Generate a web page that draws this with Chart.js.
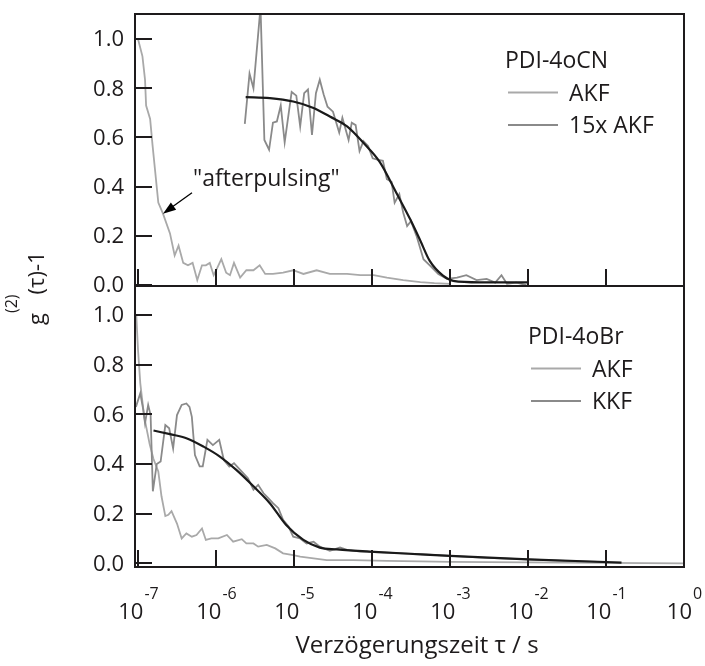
<!DOCTYPE html>
<html>
<head>
<meta charset="utf-8">
<script src="https://cdn.jsdelivr.net/npm/chart.js@4.4.1/dist/chart.umd.min.js"></script>
<style>
body { margin: 0; background: #fff; }
#wrap { position: relative; width: 705px; height: 666px; }
#wrap canvas { position: absolute; left: 0; top: 0; }
</style>
</head>
<body>
<div id="wrap">
  <canvas id="oben" width="705" height="666"></canvas>
  <canvas id="unten" width="705" height="666"></canvas>
</div>
<script>
// PDI-4oCN: Autokorrelation, 15-fach vergroessert und Fit
var tauAkfCN = [1.0e-7, 1.14e-7, 1.23e-7, 1.27e-7, 1.43e-7, 1.54e-7, 1.82e-7, 2.09e-7, 2.57e-7, 2.95e-7,
  3.31e-7, 3.80e-7, 4.37e-7, 5.01e-7, 5.75e-7, 6.61e-7, 7.41e-7, 8.32e-7, 9.33e-7, 1.02e-6,
  1.17e-6, 1.35e-6, 1.51e-6, 1.70e-6, 2.04e-6, 2.45e-6, 3.02e-6, 3.63e-6, 4.27e-6, 5.37e-6,
  7.24e-6, 9.77e-6, 1.32e-5, 1.95e-5, 2.88e-5, 4.79e-5, 7.08e-5, 1.05e-4, 1.55e-4, 2.51e-4,
  4.17e-4, 6.3e-4, 1.0e-3];
var gAkfCN = [1.00, 0.93, 0.835, 0.73, 0.675, 0.565, 0.335, 0.29, 0.21, 0.12,
  0.16, 0.09, 0.08, 0.09, 0.02, 0.08, 0.08, 0.09, 0.04, 0.065,
  0.105, 0.05, 0.04, 0.09, 0.03, 0.06, 0.06, 0.08, 0.045, 0.045,
  0.05, 0.06, 0.045, 0.06, 0.045, 0.045, 0.04, 0.04, 0.03, 0.02,
  0.012, 0.008, 0.005];

var tauAkf15CN = [2.34e-6, 2.69e-6, 3.02e-6, 3.72e-6, 4.17e-6, 4.79e-6, 5.37e-6, 6.03e-6, 6.76e-6, 7.59e-6,
  9.33e-6, 1.07e-5, 1.20e-5, 1.35e-5, 1.51e-5, 1.70e-5, 1.91e-5, 2.14e-5, 2.40e-5, 2.69e-5,
  3.16e-5, 3.80e-5, 4.17e-5, 5.01e-5, 5.50e-5, 6.17e-5, 6.92e-5, 7.76e-5, 8.91e-5, 1.02e-4,
  1.17e-4, 1.38e-4, 1.55e-4, 1.78e-4, 1.95e-4, 2.24e-4, 2.51e-4, 2.82e-4, 3.16e-4, 3.72e-4,
  4.57e-4, 5.50e-4, 7.08e-4, 9.12e-4, 1.23e-3, 1.62e-3, 2.19e-3, 2.95e-3, 3.80e-3, 4.57e-3,
  5.37e-3, 7.08e-3, 9.55e-3];
var gAkf15CN = [0.655, 0.86, 0.80, 1.13, 0.59, 0.55, 0.66, 0.665, 0.73, 0.58,
  0.785, 0.77, 0.645, 0.78, 0.795, 0.61, 0.78, 0.835, 0.775, 0.725,
  0.705, 0.62, 0.68, 0.59, 0.66, 0.65, 0.545, 0.585, 0.565, 0.515,
  0.51, 0.505, 0.43, 0.42, 0.335, 0.37, 0.295, 0.24, 0.26, 0.20,
  0.105, 0.08, 0.045, 0.025, 0.03, 0.04, 0.02, 0.025, 0.01, 0.04,
  0.005, 0.01, 0.0];

var tauFitCN = [2.40e-6, 4.90e-6, 9.77e-6, 1.78e-5, 2.88e-5, 4.79e-5, 7.76e-5, 1.26e-4, 2.09e-4, 3.09e-4,
  4.17e-4, 5.50e-4, 8.13e-4, 1.10e-3, 2.40e-3, 1.0e-2];
var gFitCN = [0.764, 0.76, 0.746, 0.72, 0.685, 0.645, 0.578, 0.50, 0.37, 0.267,
  0.18, 0.098, 0.038, 0.017, 0.011, 0.011];

// PDI-4oBr: Autokorrelation, Kreuzkorrelation und Fit
var tauAkfBr = [9.5e-8, 1.0e-7, 1.07e-7, 1.13e-7, 1.2e-7, 1.33e-7, 1.41e-7, 1.58e-7, 1.82e-7, 2.0e-7,
  2.24e-7, 2.45e-7, 2.69e-7, 3.16e-7, 3.63e-7, 4.17e-7, 4.9e-7, 5.62e-7, 6.61e-7, 7.41e-7,
  8.71e-7, 1.07e-6, 1.38e-6, 1.66e-6, 2.14e-6, 2.45e-6, 3.02e-6, 3.47e-6, 4.47e-6, 5.75e-6,
  7.24e-6, 9.77e-6, 1.2e-5, 1.78e-5, 2.63e-5, 5.75e-5, 1.55e-4, 4.17e-4, 1.0e-3, 1.0e-2,
  1.0e-1, 1.0];
var gAkfBr = [1.0, 0.86, 0.725, 0.66, 0.59, 0.52, 0.48, 0.42, 0.37, 0.27,
  0.19, 0.195, 0.21, 0.16, 0.10, 0.12, 0.107, 0.114, 0.14, 0.094,
  0.10, 0.10, 0.114, 0.087, 0.097, 0.08, 0.08, 0.067, 0.074, 0.06,
  0.04, 0.033, 0.027, 0.02, 0.013, 0.013, 0.01, 0.008, 0.006, 0.004,
  0.002, 0.0];

var tauKkfBr = [9.4e-8, 1.07e-7, 1.17e-7, 1.23e-7, 1.35e-7, 1.45e-7, 1.55e-7, 1.74e-7, 1.95e-7, 2.24e-7,
  2.51e-7, 2.82e-7, 3.16e-7, 3.63e-7, 4.17e-7, 4.57e-7, 4.9e-7, 5.37e-7, 6.17e-7, 6.76e-7,
  7.76e-7, 9.12e-7, 1.10e-6, 1.26e-6, 1.48e-6, 1.70e-6, 2.04e-6, 2.57e-6, 3.02e-6, 3.47e-6,
  4.07e-6, 4.68e-6, 5.37e-6, 6.31e-6, 7.24e-6, 8.51e-6, 9.77e-6, 1.2e-5, 1.45e-5, 1.78e-5,
  2.14e-5, 2.88e-5, 3.89e-5, 4.79e-5, 7.08e-5, 1.55e-4, 4.17e-4, 1.0e-3, 3.0e-3, 1.0e-2,
  3.0e-2, 1.0e-1];
var gKkfBr = [0.63, 0.685, 0.617, 0.564, 0.638, 0.597, 0.29, 0.40, 0.41, 0.557,
  0.544, 0.463, 0.597, 0.638, 0.644, 0.63, 0.59, 0.436, 0.39, 0.39,
  0.497, 0.476, 0.497, 0.416, 0.39, 0.403, 0.376, 0.342, 0.296, 0.316,
  0.282, 0.262, 0.242, 0.222, 0.175, 0.148, 0.107, 0.10, 0.08, 0.087,
  0.067, 0.05, 0.064, 0.054, 0.047, 0.043, 0.037, 0.03, 0.022, 0.016,
  0.01, 0.005];

var tauFitBr = [1.58e-7, 2.57e-7, 4.17e-7, 6.92e-7, 1.12e-6, 1.82e-6, 3.02e-6, 4.90e-6, 7.94e-6, 1.32e-5,
  2.14e-5, 3.55e-5, 9.33e-5, 4.17e-4, 1.0e-3, 1.0e-2, 1.58e-1];
var gFitBr = [0.535, 0.52, 0.504, 0.47, 0.43, 0.376, 0.31, 0.242, 0.154, 0.094,
  0.063, 0.056, 0.047, 0.036, 0.03, 0.016, 0.003];

// Achsenbeschriftung
var xTicks = [1e-7, 1e-6, 1e-5, 1e-4, 1e-3, 1e-2, 1e-1, 1e0];
var xTickExp = ['-7', '-6', '-5', '-4', '-3', '-2', '-1', '0'];
var yTicks = [0, 0.2, 0.4, 0.6, 0.8, 1.0];
var yTickLabels = ['0.0', '0.2', '0.4', '0.6', '0.8', '1.0'];

var hell = '#a9a9a9';
var dunkel = '#8a8a8a';
var schwarz = '#1a1a1a';
var text = '#1e1b1c';
var schrift = '"Open Sans", sans-serif';

function punkte(tau, g) {
    var arr = [];
    tau.forEach(function(t, i) {
        arr.push({x: t, y: g[i]});
    });
    return arr;
}

function linie(label, tau, g, farbe, breite, order, glatt) {
    return {
        label: label,
        data: punkte(tau, g),
        borderColor: farbe,
        backgroundColor: farbe,
        borderWidth: breite,
        pointRadius: 0,
        fill: false,
        order: order,
        clip: 1,
        cubicInterpolationMode: glatt ? 'monotone' : 'default',
        tension: 0
    };
}

// Rahmen, nach innen zeigende Ticks und y-Beschriftung
var rahmen = {
    id: 'rahmen',
    afterDatasetsDraw: function(chart) {
        var ctx = chart.ctx, a = chart.chartArea;
        var xs = chart.scales.x, ys = chart.scales.y;
        ctx.save();
        ctx.strokeStyle = text;
        ctx.lineWidth = 2;
        ctx.strokeRect(a.left, a.top, a.right - a.left, a.bottom - a.top);
        ctx.beginPath();
        xTicks.forEach(function(t) {
            var px = Math.round(xs.getPixelForValue(t));
            ctx.moveTo(px, a.bottom);
            ctx.lineTo(px, a.bottom - 17);
        });
        yTicks.forEach(function(v) {
            var py = Math.round(ys.getPixelForValue(v));
            ctx.moveTo(a.left, py);
            ctx.lineTo(a.left + 17, py);
        });
        ctx.stroke();
        ctx.fillStyle = text;
        ctx.font = '22px ' + schrift;
        ctx.textAlign = 'right';
        ctx.textBaseline = 'middle';
        yTicks.forEach(function(v, i) {
            ctx.fillText(yTickLabels[i], 124, ys.getPixelForValue(v) + 1);
        });
        ctx.restore();
    }
};

function legende(chart, titel, x, y) {
    var ctx = chart.ctx;
    ctx.save();
    ctx.font = '23px ' + schrift;
    ctx.fillStyle = text;
    ctx.textAlign = 'left';
    ctx.textBaseline = 'alphabetic';
    ctx.fillText(titel, x, y);
    var n = 0;
    chart.data.datasets.forEach(function(ds) {
        if (!ds.label) return;
        n++;
        var yy = y + n * 32.5;
        ctx.strokeStyle = ds.borderColor;
        ctx.lineWidth = 1.8;
        ctx.beginPath();
        ctx.moveTo(x + 3, yy - 8);
        ctx.lineTo(x + 53, yy - 8);
        ctx.stroke();
        ctx.fillText(ds.label, x + 64, yy);
    });
    ctx.restore();
}

var obenExtra = {
    id: 'obenExtra',
    afterDraw: function(chart) {
        legende(chart, 'PDI-4oCN', 505, 68);
        var ctx = chart.ctx;
        var xs = chart.scales.x, ys = chart.scales.y;
        // Pfeil auf den Afterpulsing-Anteil der AKF
        var sx = xs.getPixelForValue(2.09e-7), sy = ys.getPixelForValue(0.29);
        var ex = sx + 29, ey = sy - 21;
        var w = Math.atan2(sy - ey, sx - ex);
        ctx.save();
        ctx.strokeStyle = '#000';
        ctx.fillStyle = '#000';
        ctx.lineWidth = 1.3;
        ctx.beginPath();
        ctx.moveTo(ex, ey);
        ctx.lineTo(sx - 10 * Math.cos(w), sy - 10 * Math.sin(w));
        ctx.stroke();
        ctx.beginPath();
        ctx.moveTo(sx, sy);
        ctx.lineTo(sx - 13 * Math.cos(w) + 4.5 * Math.sin(w), sy - 13 * Math.sin(w) - 4.5 * Math.cos(w));
        ctx.lineTo(sx - 13 * Math.cos(w) - 4.5 * Math.sin(w), sy - 13 * Math.sin(w) + 4.5 * Math.cos(w));
        ctx.closePath();
        ctx.fill();
        ctx.font = '23px ' + schrift;
        ctx.fillStyle = text;
        ctx.textAlign = 'left';
        ctx.textBaseline = 'alphabetic';
        ctx.fillText('"afterpulsing"', 193, 186);
        ctx.restore();
    }
};

var untenExtra = {
    id: 'untenExtra',
    afterDraw: function(chart) {
        legende(chart, 'PDI-4oBr', 528, 344);
        var ctx = chart.ctx;
        var xs = chart.scales.x;
        ctx.save();
        ctx.fillStyle = text;
        ctx.textBaseline = 'alphabetic';
        ctx.textAlign = 'left';
        xTicks.forEach(function(t, i) {
            var px = xs.getPixelForValue(t);
            ctx.font = '22px ' + schrift;
            var w1 = ctx.measureText('10').width;
            ctx.font = '16px ' + schrift;
            var w2 = ctx.measureText(xTickExp[i]).width;
            var x0 = px - (w1 + w2) / 2;
            ctx.font = '22px ' + schrift;
            ctx.fillText('10', x0, 619);
            ctx.font = '16px ' + schrift;
            ctx.fillText(xTickExp[i], x0 + w1 + 1, 599);
        });
        ctx.font = '24px ' + schrift;
        ctx.textAlign = 'center';
        ctx.fillText('Verzögerungszeit τ / s', 417, 653);
        // y-Titel g^(2)(τ)-1, gedreht
        ctx.translate(44, 325);
        ctx.rotate(-Math.PI / 2);
        ctx.textAlign = 'left';
        ctx.font = '22px ' + schrift;
        var wg = ctx.measureText('g').width;
        ctx.fillText('g', 0, 0);
        ctx.font = '16px ' + schrift;
        var ws = ctx.measureText('(2)').width;
        ctx.fillText('(2)', wg, -27);
        ctx.font = '22px ' + schrift;
        ctx.fillText('(τ)-1', wg + ws, 0);
        ctx.restore();
    }
};

function diagramm(id, datasets, ymin, ymax, pad, extra) {
    return new Chart(document.getElementById(id), {
        type: 'line',
        data: {datasets: datasets},
        options: {
            responsive: false,
            animation: false,
            layout: {padding: pad},
            plugins: {legend: {display: false}, tooltip: {enabled: false}},
            scales: {
                x: {type: 'logarithmic', min: 9.15e-8, max: 1, display: false},
                y: {type: 'linear', min: ymin, max: ymax, display: false}
            }
        },
        plugins: [rahmen, extra]
    });
}

diagramm('oben', [
    linie('AKF', tauAkfCN, gAkfCN, hell, 1.8, 2, false),
    linie('15x AKF', tauAkf15CN, gAkf15CN, dunkel, 1.8, 1, false),
    linie('', tauFitCN, gFitCN, schwarz, 2.2, 0, true)
], -0.004, 1.102, {left: 135, right: 21, top: 14, bottom: 380}, obenExtra);

diagramm('unten', [
    linie('AKF', tauAkfBr, gAkfBr, hell, 1.8, 2, false),
    linie('KKF', tauKkfBr, gKkfBr, dunkel, 1.8, 1, false),
    linie('', tauFitBr, gFitBr, schwarz, 2.2, 0, true)
], -0.015, 1.117, {left: 135, right: 21, top: 286, bottom: 99}, untenExtra);
</script>
</body>
</html>
